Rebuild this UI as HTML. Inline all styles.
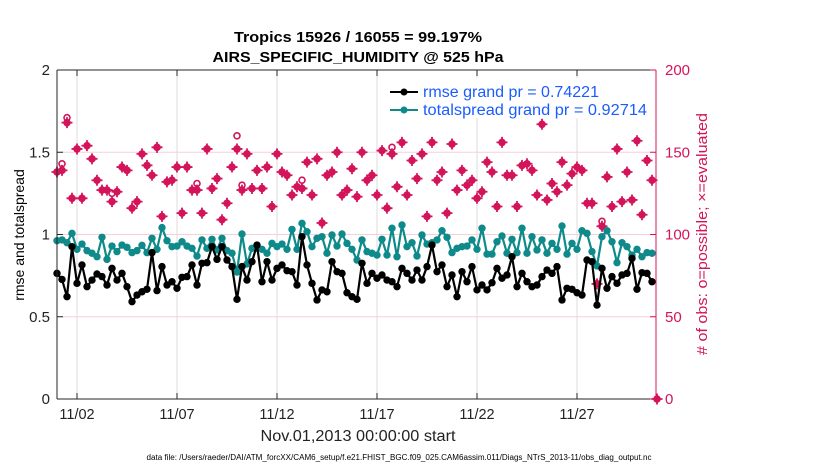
<!DOCTYPE html>
<html><head><meta charset="utf-8">
<style>
html,body{margin:0;padding:0;background:#fff;}
svg{display:block;font-family:"Liberation Sans",Arial,sans-serif;}
</style></head>
<body>
<svg id="chart" width="830" height="470" viewBox="0 0 830 470" xmlns="http://www.w3.org/2000/svg">
  <rect x="0" y="0" width="830" height="470" fill="#fff"/>
  <g id="grid"></g>
  <g id="series"></g>
  <g id="axes"></g>
  <text x="358" y="42" text-anchor="middle" font-size="15" font-weight="bold" fill="#000" textLength="248" lengthAdjust="spacingAndGlyphs">Tropics 15926 / 16055 = 99.197%</text>
  <text x="358" y="62" text-anchor="middle" font-size="15" font-weight="bold" fill="#000" textLength="291" lengthAdjust="spacingAndGlyphs">AIRS_SPECIFIC_HUMIDITY @ 525 hPa</text>
  <text transform="translate(24,235) rotate(-90)" text-anchor="middle" font-size="14" fill="#000">rmse and totalspread</text>
  <text transform="translate(707,234) rotate(-90)" text-anchor="middle" font-size="15" fill="#d4145a" textLength="242" lengthAdjust="spacingAndGlyphs"># of obs: o=possible; ×=evaluated</text>
  <text x="358" y="441" text-anchor="middle" font-size="15.5" fill="#222" textLength="195" lengthAdjust="spacingAndGlyphs">Nov.01,2013 00:00:00 start</text>
  <text x="399" y="460" text-anchor="middle" font-size="8" fill="#000" textLength="505" lengthAdjust="spacingAndGlyphs">data file: /Users/raeder/DAI/ATM_forcXX/CAM6_setup/f.e21.FHIST_BGC.f09_025.CAM6assim.011/Diags_NTrS_2013-11/obs_diag_output.nc</text>
  <g id="legend">
    <rect x="386" y="78" width="266" height="40" fill="#fff"/>
    <line x1="390" y1="92" x2="418" y2="92" stroke="#000" stroke-width="2"/>
    <circle cx="404" cy="92" r="3.5" fill="#000"/>
    <text x="423" y="97" font-size="15.5" fill="#1a5cff" textLength="176" lengthAdjust="spacingAndGlyphs">rmse grand pr = 0.74221</text>
    <line x1="390" y1="110" x2="418" y2="110" stroke="#0f8a8a" stroke-width="2"/>
    <circle cx="404" cy="110" r="3.5" fill="#0f8a8a"/>
    <text x="423" y="115" font-size="15.5" fill="#1a5cff" textLength="224" lengthAdjust="spacingAndGlyphs">totalspread grand pr = 0.92714</text>
  </g>
</svg>
<script>
const rmse = [0.764,0.727,0.622,0.926,0.703,0.815,0.683,0.723,0.760,0.744,0.693,0.794,0.723,0.764,0.683,0.592,0.632,0.652,0.667,0.890,0.659,0.805,0.693,0.713,0.673,0.740,0.744,0.815,0.693,0.825,0.829,0.926,0.849,0.926,0.845,0.805,0.606,0.805,0.723,0.835,0.936,0.713,0.835,0.723,0.794,0.815,0.780,0.774,0.693,0.987,0.815,0.703,0.602,0.663,0.652,0.835,0.774,0.764,0.646,0.622,0.606,
0.825,0.703,0.764,0.734,0.754,0.723,0.713,0.683,0.794,0.764,0.723,0.784,0.723,0.805,0.936,0.774,0.815,0.683,0.754,0.622,0.774,0.713,0.805,0.663,0.693,0.663,0.707,0.794,0.734,0.754,0.865,0.683,0.764,0.713,0.683,0.693,0.744,0.784,0.764,0.805,0.602,0.673,0.667,0.646,0.632,0.845,0.835,0.571,0.794,0.673,0.744,0.703,0.754,0.764,0.855,0.667,0.768,0.764,0.713];
const spread = [0.962,0.967,0.950,1.007,0.910,0.942,0.902,0.886,0.865,0.983,0.849,0.930,0.896,0.936,0.922,0.890,0.902,0.934,0.890,0.977,0.910,1.042,0.962,0.926,0.930,0.956,0.930,0.916,0.869,0.967,0.916,0.971,0.906,0.977,0.902,0.886,0.772,1.003,0.821,0.916,0.916,0.910,0.886,0.946,0.926,0.942,0.910,1.031,0.910,1.068,1.017,0.926,0.977,0.987,0.886,0.997,0.930,1.003,0.946,0.910,0.845,
0.967,0.896,0.886,0.875,0.971,0.875,1.038,0.865,1.058,0.926,0.950,0.869,0.997,0.942,0.950,0.967,1.023,0.983,0.890,0.916,0.926,0.930,0.967,0.910,1.038,0.881,0.881,0.956,0.991,0.886,0.971,0.890,1.038,0.886,0.987,0.906,0.967,0.886,0.946,0.910,1.052,0.881,0.946,0.910,1.023,1.007,0.896,0.809,0.987,1.023,0.956,0.829,0.950,0.926,0.875,0.910,0.865,0.890,0.886];
const obsEvaluated = [138,139,168,122,152,122,154,146,133,127,127,120,126,141,139,116,120,149,142,136,153,111,132,133,141,113,141,127,127,113,152,128,134,109,119,141,152,127,149,128,139,128,141,117,149,138,136,124,129,128,144,124,146,107,136,138,150,124,127,140,
123,150,133,136,124,151,116,149,129,156,124,145,134,149,111,156,133,138,113,155,127,139,130,133,122,126,144,138,117,156,136,136,117,142,143,139,124,167,121,131,126,144,130,137,141,139,119,119,70,105,135,117,152,120,138,121,157,112,145,133,0];
const obsPossible = [138,143,171,122,152,122,154,146,133,127,127,125,126,141,139,116,120,149,142,136,153,111,132,133,141,113,141,127,131,113,152,128,134,109,119,141,160,130,149,128,139,128,141,117,149,138,136,124,129,133,144,124,146,107,136,138,150,124,127,140,
123,150,133,136,124,151,116,153,129,156,124,145,134,149,111,156,133,138,113,155,127,139,130,133,122,126,144,138,117,156,136,136,117,142,143,139,124,167,121,131,126,144,130,137,141,139,119,119,70,108,135,117,152,120,138,121,157,112,145,133,0];
const xTickLabels = ['11/02','11/07','11/12','11/17','11/22','11/27'];
const xTickIdx = [4,24,44,64,84,104];
const yTickLabels = ['0','0.5','1','1.5','2'];
const yTickVals = [0,0.5,1,1.5,2];
const y2TickLabels = ['0','50','100','150','200'];
const y2TickVals = [0,50,100,150,200];

const NS='http://www.w3.org/2000/svg';
const L=57, R=656, T=70, B=399;
const xS = i => 57 + i*5;
const yS = v => B - (v/2)*(B-T);
const y2S = v => B - (v/200)*(B-T);
const MAG='#d4145a', TEAL='#0f8a8a';
function mk(tag, attrs, parent){const e=document.createElementNS(NS,tag);for(const k in attrs)e.setAttribute(k,attrs[k]);parent.appendChild(e);return e;}
const grid=document.getElementById('grid'), ser=document.getElementById('series'), ax=document.getElementById('axes');

xTickIdx.forEach((ti,k)=>{
  const g=mk('line',{x1:xS(ti),x2:xS(ti),y1:T,y2:B,stroke:'#dcdcdc','stroke-width':1},grid);
  
  
});
y2TickVals.forEach(v=>{
  if(v===0||v===200) return;
  const g=mk('line',{x1:L,x2:R,y1:y2S(v),y2:y2S(v),stroke:'#f6cfdc','stroke-width':1},grid);
  
  
});

function drawLine(vals,color,name){
  const pts=vals.map((v,i)=>xS(i)+','+yS(v)).join(' ');
  const p=mk('polyline',{points:pts,fill:'none',stroke:color,'stroke-width':2.2,'stroke-linejoin':'round'},ser);
  
  
  vals.forEach((v,i)=>{
    const c=mk('circle',{cx:xS(i),cy:yS(v),r:3.7,fill:color},ser);
    
    
  });
}
obsPossible.forEach((v,i)=>{
  if(v!==obsEvaluated[i]){
    const c=mk('circle',{cx:xS(i),cy:y2S(v),r:3,fill:'#fff',stroke:MAG,'stroke-width':1.6},ser);
    
    
  }
});
obsEvaluated.forEach((v,i)=>{
  const x=xS(i), y=y2S(v);
  const g=mk('g',{},ser);
  
  
  mk('circle',{cx:x,cy:y,r:3.8,fill:MAG},g);
  mk('path',{d:`M${x-5.5},${y}H${x+5.5}M${x},${y-5.5}V${y+5.5}`,stroke:MAG,'stroke-width':1.8},g);
});
drawLine(spread,TEAL,'totalspread');
drawLine(rmse,'#000','rmse');

let a=mk('line',{x1:L,x2:R,y1:B,y2:B,stroke:'#262626','stroke-width':1},ax);
 
a=mk('line',{x1:L,x2:R,y1:T,y2:T,stroke:'#262626','stroke-width':1},ax);
 
a=mk('line',{x1:L,x2:L,y1:T,y2:B,stroke:'#262626','stroke-width':1},ax);
 
a=mk('line',{x1:R,x2:R,y1:T,y2:B,stroke:MAG,'stroke-width':1},ax);
 

xTickIdx.forEach((ti,k)=>{
  mk('line',{x1:xS(ti),x2:xS(ti),y1:B,y2:B-6,stroke:'#262626'},ax);
  mk('line',{x1:xS(ti),x2:xS(ti),y1:T,y2:T+6,stroke:'#262626'},ax);
  const t=mk('text',{x:xS(ti),y:B+20,'text-anchor':'middle','font-size':14.5,fill:'#222'},ax);
  t.textContent=xTickLabels[k];
  
  
});
yTickVals.forEach((v,k)=>{
  mk('line',{x1:L,x2:L+6,y1:yS(v),y2:yS(v),stroke:'#262626'},ax);
  const t=mk('text',{x:L-7,y:yS(v)+5,'text-anchor':'end','font-size':15,fill:'#222'},ax);
  t.textContent=yTickLabels[k];
  
  
});
y2TickVals.forEach((v,k)=>{
  mk('line',{x1:R,x2:R-6,y1:y2S(v),y2:y2S(v),stroke:MAG},ax);
  const t=mk('text',{x:R+9,y:y2S(v)+5,'text-anchor':'start','font-size':15,fill:MAG},ax);
  t.textContent=y2TickLabels[k];
  
  
});
</script>
</body></html>
